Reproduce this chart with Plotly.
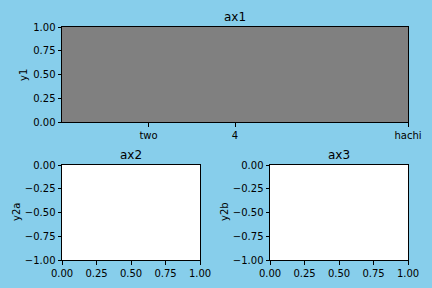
import plotly.graph_objects as go

# data
ax1_tick_vals = [2, 4, 8]
ax1_tick_text = ["two", "4", "hachi"]
ax1_xrange = [0, 8]
ax1_yrange = [0, 1]
ax1_yticks = [0, 0.25, 0.5, 0.75, 1.0]
small_xrange = [0, 1]
small_xticks = [0, 0.25, 0.5, 0.75, 1.0]
small_yrange = [-1, 0]
small_yticks = [-1, -0.75, -0.5, -0.25, 0]
titles = ["ax1", "ax2", "ax3"]
ylabels = ["y1", "y2a", "y2b"]

W, H = 432, 288
def px_x(p): return p / W
def px_y(p): return 1 - p / H

fig = go.Figure()
for i, (xa, ya) in enumerate([("x", "y"), ("x2", "y2"), ("x3", "y3")]):
    fig.add_trace(go.Scatter(x=[], y=[], xaxis=xa, yaxis=ya, showlegend=False))

font = dict(family="DejaVu Sans", size=10, color="black")
common = dict(showline=True, linecolor="black", linewidth=1, mirror=True,
              ticks="outside", ticklen=3.5, tickwidth=0.8, tickcolor="black",
              showgrid=False, zeroline=False, tickfont=font, fixedrange=True,
              automargin=False)

fig.update_layout(
    width=W, height=H, margin=dict(l=0, r=0, t=0, b=0, autoexpand=False),
    paper_bgcolor="#87CEEB", plot_bgcolor="white",
    font=font,
    xaxis=dict(domain=[px_x(62), px_x(408)], range=ax1_xrange, tickvals=ax1_tick_vals,
               ticktext=ax1_tick_text, anchor="y", **common),
    yaxis=dict(domain=[px_y(122), px_y(27)], range=ax1_yrange, tickvals=ax1_yticks,
               tickformat=".2f", anchor="x", **common),
    xaxis2=dict(domain=[px_x(62), px_x(200)], range=small_xrange, tickvals=small_xticks,
                tickformat=".2f", anchor="y2", **common),
    yaxis2=dict(domain=[px_y(260), px_y(165)], range=small_yrange, tickvals=small_yticks,
                tickformat=".2f", anchor="x2", **common),
    xaxis3=dict(domain=[px_x(270), px_x(408)], range=small_xrange, tickvals=small_xticks,
                tickformat=".2f", anchor="y3", **common),
    yaxis3=dict(domain=[px_y(260), px_y(165)], range=small_yrange, tickvals=small_yticks,
                tickformat=".2f", anchor="x3", **common),
)

# gray background for ax1
fig.add_shape(type="rect", xref="x domain", yref="y domain", x0=0, x1=1, y0=0, y1=1,
              fillcolor="#808080", line_width=0, layer="below")

# titles
title_pos = [((62 + 408) / 2, 17), ((62 + 200) / 2, 155), ((270 + 408) / 2, 155)]
for t, (x, y) in zip(titles, title_pos):
    fig.add_annotation(text=t, x=px_x(x), y=px_y(y), xref="paper", yref="paper",
                       showarrow=False, font=dict(family="DejaVu Sans", size=12, color="black"),
                       xanchor="center", yanchor="middle")

ylab_pos = [(23, 75), (16, 212), (224, 212)]
for t, (x, y) in zip(ylabels, ylab_pos):
    fig.add_annotation(text=t, x=px_x(x), y=px_y(y), xref="paper", yref="paper",
                       showarrow=False, textangle=-90, font=font,
                       xanchor="center", yanchor="middle")

fig.write_html("out.html")
